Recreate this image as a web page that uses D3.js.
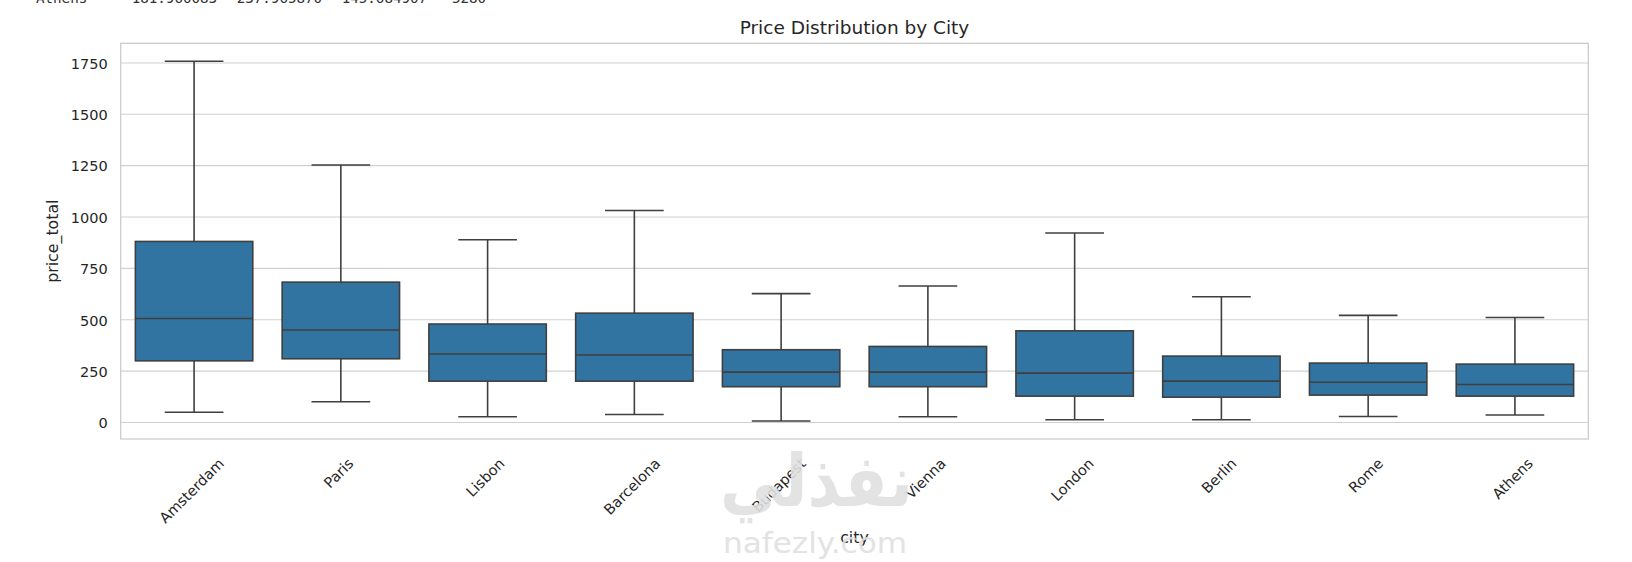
<!DOCTYPE html>
<html>
<head>
<meta charset="utf-8">
<script src="https://cdn.jsdelivr.net/npm/d3@7"></script>
<style>
  html, body { margin: 0; padding: 0; background: #fff; }
  svg { display: block; }
</style>
</head>
<body>
<script>
// ---- data ----
const cities = ["Amsterdam", "Paris", "Lisbon", "Barcelona", "Budapest", "Vienna", "London", "Berlin", "Rome", "Athens"];
const whiskerLow  = [50, 101, 28, 39, 7, 28, 13, 13, 29, 36];
const q1          = [300, 310, 201, 201, 174, 174, 128, 123, 133, 128];
const medians     = [506, 450, 333, 328, 245, 245, 240, 201, 196, 185];
const q3          = [881, 683, 479, 532, 354, 370, 446, 323, 289, 284];
const whiskerHigh = [1758, 1253, 889, 1032, 627, 664, 922, 612, 521, 511];
const yTicks = [0, 250, 500, 750, 1000, 1250, 1500, 1750];
// cut-off table line above the figure
const tableRow = ["Athens", "181.960083", "237.965870", "145.684907", "5280"];

const W = 1632, H = 562;
const plot = { left: 120.7, right: 1588.3, top: 43.3, bottom: 439 };
const FONT = "'DejaVu Sans', sans-serif";
const TEXT = "#262626";
const LINE = "#3f3f3f";
const FILL = "#3274a1";

const svg = d3.select("body").append("svg").attr("width", W).attr("height", H);

// top cut-off text
const tableX = [36, 131.7, 236.7, 341.7, 452];
svg.append("g").selectAll("text").data(tableRow).join("text")
  .attr("x", (d, i) => tableX[i]).attr("y", 3)
  .attr("font-family", "'DejaVu Sans Mono', monospace").attr("font-size", 14.2)
  .attr("fill", "#333").text(d => d);

// scales
const lo = d3.min(whiskerLow), hi = d3.max(whiskerHigh), pad = (hi - lo) * 0.05;
const y = d3.scaleLinear().domain([lo - pad, hi + pad]).range([plot.bottom, plot.top]);
const x = d3.scaleBand().domain(cities).range([plot.left, plot.right]).paddingInner(0).paddingOuter(0);
const bw = x.bandwidth() * 0.8;

// grid
svg.append("g").selectAll("line").data(yTicks).join("line")
  .attr("x1", plot.left).attr("x2", plot.right)
  .attr("y1", d => y(d)).attr("y2", d => y(d))
  .attr("stroke", "#d0d0d0").attr("stroke-width", 1.1);

// y axis labels via d3 axis
const yAxis = svg.append("g").attr("transform", `translate(${plot.left},0)`)
  .call(d3.axisLeft(y).tickValues(yTicks).tickSize(0).tickPadding(13).tickFormat(d3.format("d")));
yAxis.select(".domain").remove();
yAxis.selectAll("text").attr("font-family", FONT).attr("font-size", 14.5).attr("fill", TEXT).attr("dy", "0.365em");

// frame
svg.append("rect")
  .attr("x", plot.left).attr("y", plot.top)
  .attr("width", plot.right - plot.left).attr("height", plot.bottom - plot.top)
  .attr("fill", "none").attr("stroke", "#cccccc").attr("stroke-width", 1.3);

// boxes
const data = cities.map((c, i) => ({ c, lo: whiskerLow[i], q1: q1[i], med: medians[i], q3: q3[i], hi: whiskerHigh[i] }));
const g = svg.append("g").selectAll("g").data(data).join("g");
const cx = d => x(d.c) + x.bandwidth() / 2;
const sw = 1.6;
// whiskers
g.append("line").attr("x1", cx).attr("x2", cx).attr("y1", d => y(d.q3)).attr("y2", d => y(d.hi))
  .attr("stroke", LINE).attr("stroke-width", sw);
g.append("line").attr("x1", cx).attr("x2", cx).attr("y1", d => y(d.q1)).attr("y2", d => y(d.lo))
  .attr("stroke", LINE).attr("stroke-width", sw);
// caps
g.append("line").attr("x1", d => cx(d) - bw / 4).attr("x2", d => cx(d) + bw / 4)
  .attr("y1", d => y(d.hi)).attr("y2", d => y(d.hi)).attr("stroke", LINE).attr("stroke-width", sw);
g.append("line").attr("x1", d => cx(d) - bw / 4).attr("x2", d => cx(d) + bw / 4)
  .attr("y1", d => y(d.lo)).attr("y2", d => y(d.lo)).attr("stroke", LINE).attr("stroke-width", sw);
// box
g.append("rect").attr("x", d => cx(d) - bw / 2).attr("width", bw)
  .attr("y", d => y(d.q3)).attr("height", d => y(d.q1) - y(d.q3))
  .attr("fill", FILL).attr("stroke", LINE).attr("stroke-width", sw);
// median
g.append("line").attr("x1", d => cx(d) - bw / 2).attr("x2", d => cx(d) + bw / 2)
  .attr("y1", d => y(d.med)).attr("y2", d => y(d.med)).attr("stroke", LINE).attr("stroke-width", sw);

// x tick labels rotated 45 deg
const xl = svg.append("g");
cities.forEach(c => {
  const t = xl.append("text").text(c)
    .attr("font-family", FONT).attr("font-size", 14.5).attr("fill", TEXT)
    .attr("text-anchor", "middle").attr("dy", "0.32em");
  const w = t.node().getComputedTextLength();
  const tx = x(c) + x.bandwidth() / 2 - 2;
  const ty = 457 + (w + 12) * 0.3535;
  t.attr("transform", `translate(${tx},${ty}) rotate(-45)`);
});

// axis titles
svg.append("text").attr("x", (plot.left + plot.right) / 2).attr("y", 542.7)
  .attr("text-anchor", "middle").attr("font-family", FONT).attr("font-size", 15.8).attr("fill", TEXT).text("city");
svg.append("text").attr("transform", `translate(57.5,${(plot.top + plot.bottom) / 2}) rotate(-90)`)
  .attr("text-anchor", "middle").attr("font-family", FONT).attr("font-size", 15.8).attr("fill", TEXT).text("price_total");
svg.append("text").attr("x", (plot.left + plot.right) / 2).attr("y", 34.3)
  .attr("text-anchor", "middle").attr("font-family", FONT).attr("font-size", 18.5).attr("fill", TEXT)
  .text("Price Distribution by City");

// watermark
const wm = svg.append("g").attr("opacity", 0.9);
wm.append("text").attr("x", 720).attr("y", 506).attr("direction", "rtl").attr("text-anchor", "end")
  .attr("font-family", FONT).attr("font-weight", "bold").attr("font-size", 72).attr("fill", "#e0e0e0")
  .attr("textLength", 193).attr("lengthAdjust", "spacingAndGlyphs").text("نفذلي");
wm.append("text").attr("x", 723).attr("y", 553)
  .attr("font-family", FONT).attr("font-size", 28).attr("fill", "#e0e0e0")
  .attr("textLength", 184).attr("lengthAdjust", "spacingAndGlyphs").text("nafezly.com");
</script>
</body>
</html>
